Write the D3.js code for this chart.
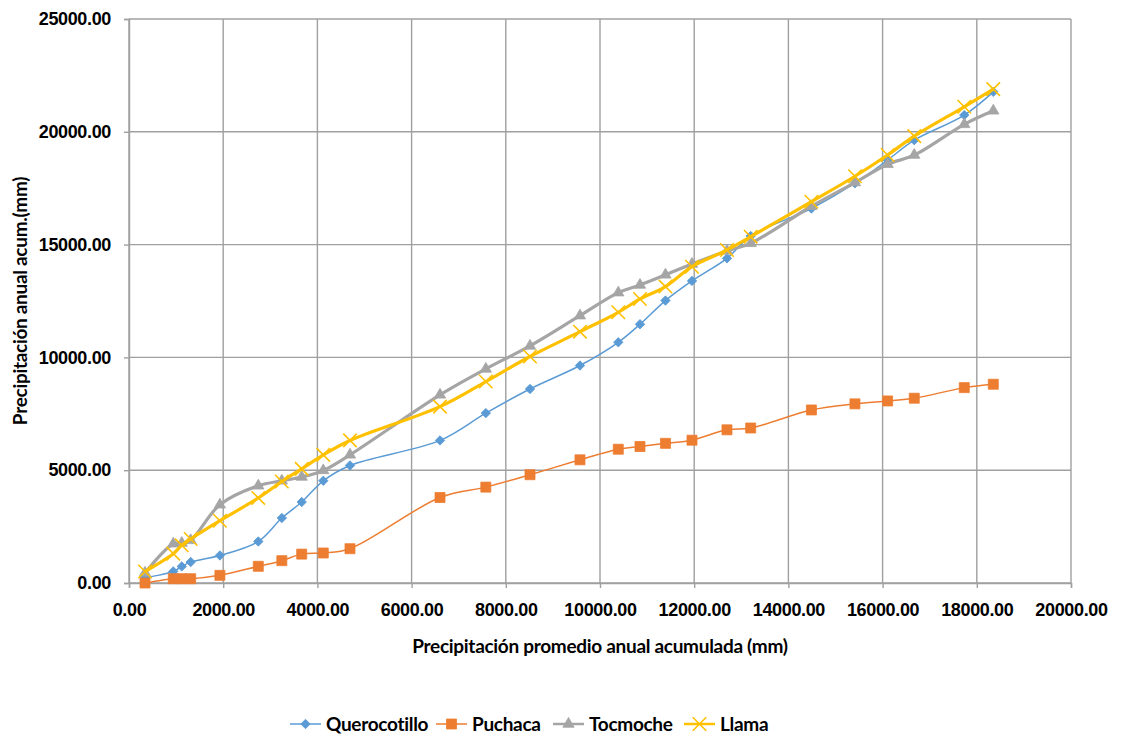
<!DOCTYPE html>
<html>
<head>
<meta charset="utf-8">
<script src="https://cdn.jsdelivr.net/npm/d3@7"></script>
<style>
  html, body { margin: 0; padding: 0; background: #fff; }
  svg { display: block; font-family: Lato, "Open Sans", sans-serif; }
  .tick text { font-weight: 700; font-size: 18px; letter-spacing: -0.35px; fill: #000; }
</style>
</head>
<body>
<svg id="chart" width="1121" height="738"></svg>
<script>
// Cumulative mean annual precipitation (x) shared by all stations
const xCum = [340, 940, 1120, 1310, 1930, 2745, 3245, 3667, 4125, 4692, 6603, 7576, 8514, 9575,
  10388, 10849, 11390, 11953, 12696, 13199, 14489, 15413, 16107, 16672, 17734, 18350];

// Cumulative annual precipitation per station
const querocotillo = [230, 515, 735, 930, 1220, 1840, 2880, 3590, 4530, 5210, 6320, 7530, 8600, 9640,
  10670, 11470, 12520, 13390, 14390, 15380, 16600, 17720, 18750, 19630, 20740, 21770];
const puchaca = [0, 190, 190, 190, 340, 740, 990, 1280, 1330, 1520, 3790, 4250, 4800, 5460,
  5930, 6050, 6190, 6330, 6790, 6870, 7670, 7940, 8070, 8190, 8660, 8810];
const tocmoche = [450, 1740, 1770, 1890, 3470, 4310, 4530, 4700, 4990, 5680, 8340, 9490, 10510, 11850,
  12870, 13210, 13660, 14140, 14720, 15060, 16700, 17750, 18560, 18970, 20330, 20930];
const llama = [510, 1300, 1670, 1950, 2760, 3770, 4500, 5060, 5680, 6320, 7820, 8930, 10040, 11140,
  12000, 12590, 13140, 14020, 14760, 15350, 16900, 18030, 18970, 19810, 21110, 21890];

const seriesNames = ["Querocotillo", "Puchaca", "Tocmoche", "Llama"];
const xTicks = [0, 2000, 4000, 6000, 8000, 10000, 12000, 14000, 16000, 18000, 20000];
const yTicks = [0, 5000, 10000, 15000, 20000, 25000];

const xTitle = "Precipitación promedio anual acumulada (mm)";
const yTitle = "Precipitación anual acum.(mm)";

const styles = [
  { color: "#5B9BD5", width: 1.5, symbol: d3.symbolSquare, size: 44, rotate: 45, fill: true },
  { color: "#ED7D31", width: 1.5, symbol: d3.symbolSquare, size: 100, rotate: 0, fill: true },
  { color: "#A5A5A5", width: 3.2, symbol: d3.symbolTriangle, size: 55, rotate: 0, fill: true },
  { color: "#FFC000", width: 3.2, symbol: d3.symbolX, size: 120, rotate: 0, fill: false }
];
const values = [querocotillo, puchaca, tocmoche, llama];

const svg = d3.select("#chart");
const plot = { left: 129, top: 19, right: 1071, bottom: 583 };

const x = d3.scaleLinear().domain([0, 20000]).range([plot.left, plot.right]);
const y = d3.scaleLinear().domain([0, 25000]).range([plot.bottom, plot.top]);
const fmt = d3.format(".2f");

// Grid
const grid = svg.append("g").attr("stroke", "#A0A0A0").attr("stroke-width", 1.4);
grid.selectAll("line.v").data(xTicks).join("line")
  .attr("x1", d => x(d)).attr("x2", d => x(d))
  .attr("y1", plot.top).attr("y2", plot.bottom);
grid.selectAll("line.h").data(yTicks).join("line")
  .attr("x1", plot.left).attr("x2", plot.right)
  .attr("y1", d => y(d)).attr("y2", d => y(d));

// Axes
const xAxis = svg.append("g").attr("transform", `translate(0,${plot.bottom})`)
  .call(d3.axisBottom(x).tickValues(xTicks).tickFormat(fmt).tickSize(5).tickPadding(15));
const yAxis = svg.append("g").attr("transform", `translate(${plot.left},0)`)
  .call(d3.axisLeft(y).tickValues(yTicks).tickFormat(fmt).tickSize(5).tickPadding(13));
[xAxis, yAxis].forEach(a => {
  a.select(".domain").attr("stroke", "#A0A0A0").attr("stroke-width", 1.4);
  a.selectAll(".tick line").attr("stroke", "#A0A0A0").attr("stroke-width", 1.4);
});

// Axis titles
svg.append("text")
  .attr("x", (plot.left + plot.right) / 2).attr("y", 653)
  .attr("text-anchor", "middle")
  .attr("font-size", 19).attr("font-weight", 700).attr("letter-spacing", -0.3)
  .text(xTitle);
svg.append("text")
  .attr("transform", `translate(27,${(plot.top + plot.bottom) / 2}) rotate(-90)`)
  .attr("text-anchor", "middle")
  .attr("font-size", 19).attr("font-weight", 700).attr("letter-spacing", -0.3)
  .text(yTitle);

// Series
const line = d3.line()
  .x(d => x(d[0])).y(d => y(d[1]))
  .curve(d3.curveCatmullRom.alpha(0.5));

function drawMarker(sel, st) {
  sel.attr("d", d3.symbol().type(st.symbol).size(st.size))
    .attr("fill", st.fill ? st.color : "none")
    .attr("stroke", st.color)
    .attr("stroke-width", st.fill ? 0.8 : 1.6);
}

values.forEach((vals, i) => {
  const st = styles[i];
  const pts = xCum.map((xv, k) => [xv, vals[k]]);
  const g = svg.append("g");
  g.append("path").datum(pts)
    .attr("d", line)
    .attr("fill", "none")
    .attr("stroke", st.color)
    .attr("stroke-width", st.width)
    .attr("stroke-linejoin", "round");
  g.selectAll("path.m").data(pts).join("path")
    .attr("class", "m")
    .call(drawMarker, st)
    .attr("transform", d => `translate(${x(d[0])},${y(d[1])}) rotate(${st.rotate})`);
});

// Legend
const legendX = [290, 436, 553, 684];
const legend = svg.append("g");
seriesNames.forEach((name, i) => {
  const st = styles[i];
  const lg = legend.append("g").attr("transform", `translate(${legendX[i]},724)`);
  lg.append("line").attr("x1", 0).attr("x2", 31).attr("y1", 0).attr("y2", 0)
    .attr("stroke", st.color).attr("stroke-width", i < 2 ? 1.5 : 2.5);
  lg.append("path").call(drawMarker, st)
    .attr("transform", `translate(15.5,0) rotate(${st.rotate})`);
  lg.append("text").attr("x", 36).attr("y", 7)
    .attr("font-size", 19).attr("font-weight", 700).attr("letter-spacing", -0.3)
    .text(name);
});
</script>
</body>
</html>
